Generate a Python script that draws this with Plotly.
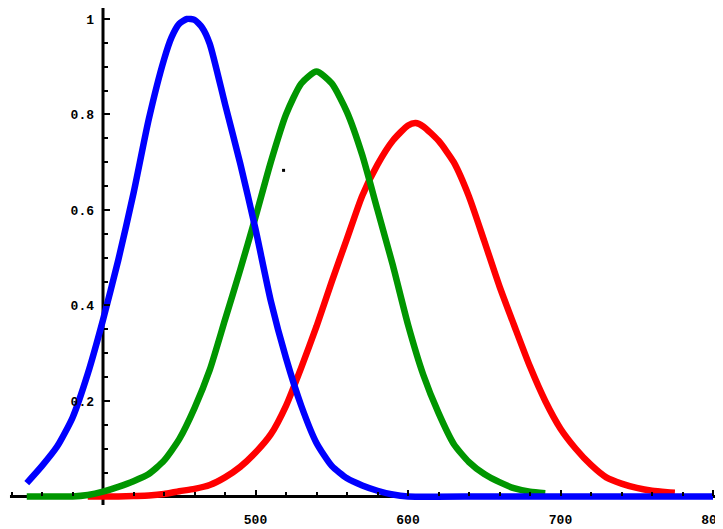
import plotly.graph_objects as go

# ---- data ----
blue_x = [350, 360, 370, 380, 390, 400, 410, 420, 430, 440, 445, 450, 455, 460, 465, 470, 480,
          490, 500, 510, 520, 530, 540, 550, 560, 570, 580, 590, 600, 650, 700, 750, 800]
blue_y = [0.028, 0.064, 0.105, 0.165, 0.257, 0.37, 0.495, 0.635, 0.79, 0.915, 0.962, 0.99, 1.0,
          0.998, 0.982, 0.948, 0.822, 0.697, 0.56, 0.41, 0.29, 0.19, 0.112, 0.064, 0.038, 0.023,
          0.012, 0.004, 0.0, 0.0, 0.0, 0.0, 0.0]

green_x = [350, 360, 370, 380, 390, 400, 410, 420, 430, 440, 450, 460, 470, 480, 490, 500,
           510, 520, 530, 540, 550, 560, 570, 580, 590, 600, 610, 620, 630, 640, 650, 660,
           670, 680, 690]
green_y = [0.0, 0.0, 0.0, 0.0, 0.003, 0.01, 0.02, 0.032, 0.047, 0.075, 0.12, 0.185, 0.265,
           0.37, 0.475, 0.585, 0.70, 0.80, 0.865, 0.89, 0.865, 0.805, 0.715, 0.60, 0.485,
           0.36, 0.255, 0.175, 0.11, 0.072, 0.047, 0.03, 0.017, 0.01, 0.007]

red_x = [390, 400, 410, 420, 430, 440, 450, 460, 470, 480, 490, 500, 510, 520, 530, 540, 550,
         560, 570, 580, 590, 600, 605, 610, 620, 630, 640, 650, 660, 670, 680, 690, 700, 710,
         720, 730, 740, 750, 760, 770, 775]
red_y = [0.0, 0.0, 0.0, 0.001, 0.002, 0.005, 0.011, 0.016, 0.024, 0.04, 0.062, 0.092, 0.13,
         0.19, 0.27, 0.356, 0.45, 0.54, 0.63, 0.695, 0.745, 0.777, 0.782, 0.775, 0.745, 0.70,
         0.628, 0.535, 0.44, 0.355, 0.272, 0.20, 0.142, 0.10, 0.066, 0.04, 0.027, 0.018,
         0.012, 0.009, 0.008]

stray_x = [518.4]
stray_y = [0.683]

x_tick_vals = [500, 600, 700, 800]
x_tick_text = ["500", "600", "700", "800"]
x_minor_vals = [340, 360, 380, 420, 440, 460, 480, 520, 540, 560, 580, 620, 640, 660, 680,
                720, 740, 760, 780]
y_tick_vals = [0.2, 0.4, 0.6, 0.8, 1.0]
y_tick_text = ["0.2", "0.4", "0.6", "0.8", "1"]
y_minor_vals = [0.05, 0.1, 0.15, 0.25, 0.3, 0.35, 0.45, 0.5, 0.55, 0.65, 0.7, 0.75, 0.85,
                0.9, 0.95]

# ---- figure ----
# the page body has an 8px margin, so the figure is 8px smaller than the window
x_range = [337.7, 806.56]
y_range = [-0.0681, 1.0230]
axis_x = 400
axis_y = 0

line_style = dict(width=6.5, shape="spline", smoothing=0.6)

fig = go.Figure()
fig.add_trace(go.Scatter(x=red_x, y=red_y, mode="lines", line=dict(color="#ff0000", **line_style), showlegend=False, hoverinfo="skip"))
fig.add_trace(go.Scatter(x=green_x, y=green_y, mode="lines", line=dict(color="#009600", **line_style), showlegend=False, hoverinfo="skip"))
fig.add_trace(go.Scatter(x=blue_x, y=blue_y, mode="lines", line=dict(color="#0000ff", **line_style), showlegend=False, hoverinfo="skip"))
fig.add_trace(go.Scatter(x=stray_x, y=stray_y, mode="markers", marker=dict(color="black", size=3, symbol="square"), showlegend=False, hoverinfo="skip"))

tick_font = dict(family="Liberation Mono", size=13, color="black", weight="bold")

fig.update_layout(
    width=715, height=521,
    margin=dict(l=0, r=0, t=0, b=0),
    paper_bgcolor="white", plot_bgcolor="white",
    xaxis=dict(
        range=x_range, domain=[0, 1], anchor="free",
        position=(axis_y - y_range[0]) / (y_range[1] - y_range[0]),
        showgrid=False, zeroline=False, showline=False,
        tickmode="array", tickvals=x_tick_vals, ticktext=x_tick_text,
        ticks="inside", ticklen=6, tickwidth=2, tickcolor="black",
        minor=dict(tickmode="array", tickvals=x_minor_vals, ticks="inside", ticklen=4, tickwidth=2, tickcolor="black"),
        tickfont=tick_font, ticklabelstandoff=14, ticklabeloverflow="allow",
        automargin=False, fixedrange=True,
    ),
    yaxis=dict(
        range=y_range, domain=[0, 1], anchor="free",
        position=(axis_x - x_range[0]) / (x_range[1] - x_range[0]),
        showgrid=False, zeroline=False, showline=False,
        tickmode="array", tickvals=y_tick_vals, ticktext=y_tick_text,
        ticks="inside", ticklen=6, tickwidth=2, tickcolor="black",
        minor=dict(tickmode="array", tickvals=y_minor_vals, ticks="inside", ticklen=4, tickwidth=2, tickcolor="black"),
        tickfont=tick_font, ticklabelstandoff=9, ticklabeloverflow="allow",
        automargin=False, fixedrange=True,
    ),
    shapes=[
        dict(type="line", xref="x", yref="y", x0=axis_x, x1=axis_x, y0=-0.0178, y1=y_range[1],
             line=dict(color="black", width=3), layer="below"),
        dict(type="line", xref="x", yref="y", x0=339.0, x1=x_range[1], y0=axis_y, y1=axis_y,
             line=dict(color="black", width=3), layer="below"),
    ],
)

fig.write_html("out.html")
